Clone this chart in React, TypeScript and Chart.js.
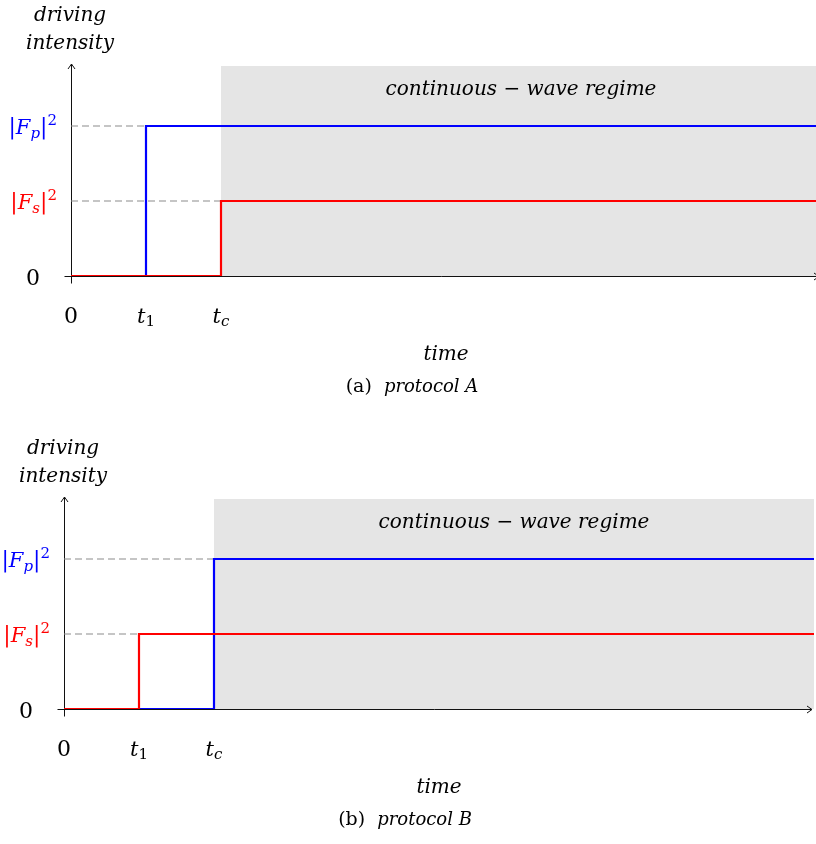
import React, { useEffect, useRef } from "react";
import { Chart, registerables } from "chart.js";
Chart.register(...registerables);

// ---- data ----
const timeTicks = [0, 1, 2]; // 0, t1, tc
const timeTickMain = ["0", "t", "t"];
const timeTickSub = ["", "1", "c"];
const levelValues = [0, 1, 2]; // 0, |Fs|^2, |Fp|^2
const X_END = 10;
const Y_TOP = 2.8;
const regimeStart = 2;
const regimeLabel = "continuous \u2212 wave regime";
const yTitle = ["driving", "intensity"];
const xTitle = "time";

const protocolA_pumpX = [0, 1, 10];
const protocolA_pumpY = [0, 2, 2];
const protocolA_signalX = [0, 2, 10];
const protocolA_signalY = [0, 1, 1];

const protocolB_pumpX = [0, 2, 10];
const protocolB_pumpY = [0, 2, 2];
const protocolB_signalX = [0, 1, 10];
const protocolB_signalY = [0, 1, 1];

const PUMP_COLOR = "#0000ff";
const SIGNAL_COLOR = "#ff0000";
const SERIF = '"DejaVu Serif"';

type Part = { t: string; font: string; dy?: number };

function drawRich(ctx: CanvasRenderingContext2D, parts: Part[], x: number, y: number, align: "left" | "center" | "right", color: string) {
  ctx.save();
  ctx.fillStyle = color;
  ctx.textBaseline = "alphabetic";
  ctx.textAlign = "left";
  let total = 0;
  const widths = parts.map((p) => {
    ctx.font = p.font;
    const w = ctx.measureText(p.t).width;
    total += w;
    return w;
  });
  let cx = align === "left" ? x : align === "center" ? x - total / 2 : x - total;
  parts.forEach((p, i) => {
    ctx.font = p.font;
    ctx.fillText(p.t, cx, y + (p.dy || 0));
    cx += widths[i];
  });
  ctx.restore();
}

const ital = `italic 20px ${SERIF}`;
const mathI = `italic 21px ${SERIF}`;
const mathR = `22px ${SERIF}`;
const subI = `italic 15px ${SERIF}`;
const subR = `15px ${SERIF}`;

function pts(xs: number[], ys: number[]) {
  return xs.map((x, i) => ({ x, y: ys[i] }));
}

function Panel(props: { left: number; top: number; pumpX: number[]; pumpY: number[]; signalX: number[]; signalY: number[]; tag: string; name: string }) {
  const ref = useRef<HTMLCanvasElement>(null);
  useEffect(() => {
    const canvas = ref.current!;
    const { pumpX, pumpY, signalX, signalY, tag, name } = props;
    const REGIME_INDEX = 4;

    const decor = {
      id: "decor",
      afterDatasetDraw(chart: any, args: any) {
        if (args.index !== REGIME_INDEX) return;
        const ctx = chart.ctx as CanvasRenderingContext2D;
        const xs = chart.scales.x;
        const ys = chart.scales.y;
        const x0 = Math.round(xs.getPixelForValue(0)) + 0.5;
        const y0 = Math.round(ys.getPixelForValue(0)) + 0.5;
        const xE = xs.getPixelForValue(X_END) - 2;
        const yT = ys.getPixelForValue(Y_TOP) - 2;
        ctx.save();
        ctx.strokeStyle = "#111";
        ctx.lineWidth = 1;
        ctx.beginPath();
        ctx.moveTo(x0 - 7, y0);
        ctx.lineTo(xE, y0);
        ctx.moveTo(x0, y0 + 7);
        ctx.lineTo(x0, yT);
        ctx.stroke();
        ctx.beginPath();
        ctx.moveTo(x0 - 3.5, yT + 5);
        ctx.lineTo(x0, yT);
        ctx.lineTo(x0 + 3.5, yT + 5);
        ctx.moveTo(xE - 5, y0 - 3.5);
        ctx.lineTo(xE, y0);
        ctx.lineTo(xE - 5, y0 + 3.5);
        ctx.stroke();
        ctx.restore();
      },
      afterDraw(chart: any) {
        const ctx = chart.ctx as CanvasRenderingContext2D;
        const xs = chart.scales.x;
        const ys = chart.scales.y;
        const x0 = xs.getPixelForValue(0);
        const y0 = ys.getPixelForValue(0);
        const yT = ys.getPixelForValue(Y_TOP);
        // x tick labels
        timeTicks.forEach((v, i) => {
          const parts: Part[] = i === 0 ? [{ t: timeTickMain[i], font: mathR }] : [{ t: timeTickMain[i], font: mathI }, { t: timeTickSub[i], font: i === 1 ? subR : subI, dy: 3 }];
          drawRich(ctx, parts, xs.getPixelForValue(v), y0 + 47, "center", "#000");
        });
        // y tick labels
        levelValues.forEach((v) => {
          const py = ys.getPixelForValue(v);
          if (v === 0) {
            drawRich(ctx, [{ t: "0", font: mathR }], x0 - 31, py + 9, "right", "#000");
          } else {
            const isPump = v === pumpY[pumpY.length - 1];
            const parts: Part[] = [
              { t: "|", font: mathR },
              { t: "F", font: mathI },
              { t: isPump ? "p" : "s", font: subI, dy: 4 },
              { t: "|", font: mathR },
              { t: "2", font: subR, dy: -9 },
            ];
            drawRich(ctx, parts, x0 - 14, py + 8, "right", isPump ? PUMP_COLOR : SIGNAL_COLOR);
          }
        });
        // axis titles
        drawRich(ctx, [{ t: yTitle[0], font: ital }], x0 - 1, yT - 45, "center", "#000");
        drawRich(ctx, [{ t: yTitle[1], font: ital }], x0 - 1, yT - 17, "center", "#000");
        drawRich(ctx, [{ t: xTitle, font: ital }], xs.getPixelForValue(X_END / 2), y0 + 84, "center", "#000");
        // regime label
        drawRich(ctx, [{ t: regimeLabel, font: ital }], xs.getPixelForValue((regimeStart + X_END) / 2), yT + 29, "center", "#000");
        // caption
        drawRich(
          ctx,
          [
            { t: `(${tag})`, font: `19px ${SERIF}` },
            { t: "  ", font: `19px ${SERIF}` },
            { t: name, font: `italic 18px ${SERIF}` },
          ],
          412,
          y0 + 116,
          "center",
          "#000"
        );
      },
    };

    const chart = new Chart(canvas, {
      type: "line",
      data: {
        datasets: [
          { data: pts(signalX, signalY), borderColor: SIGNAL_COLOR, borderWidth: 2.2, stepped: "before", pointRadius: 0, order: 0 },
          { data: pts(pumpX, pumpY), borderColor: PUMP_COLOR, borderWidth: 2.2, stepped: "before", pointRadius: 0, order: 1 },
          { data: pts([0, pumpX[1]], [pumpY[1], pumpY[1]]), borderColor: "#8c8c8c", borderWidth: 1.1, borderDash: [7, 4], pointRadius: 0, order: 2 },
          { data: pts([0, signalX[1]], [signalY[1], signalY[1]]), borderColor: "#8c8c8c", borderWidth: 1.1, borderDash: [7, 4], pointRadius: 0, order: 3 },
          { data: pts([regimeStart, X_END], [Y_TOP, Y_TOP]), borderWidth: 0, borderColor: "rgba(0,0,0,0)", backgroundColor: "#e5e5e5", fill: "start", pointRadius: 0, order: 9 },
        ] as any,
      },
      options: {
        animation: false,
        responsive: false,
        devicePixelRatio: 1,
        layout: { padding: { left: 71, right: 3, top: 66, bottom: 146 } },
        scales: {
          x: { type: "linear", min: 0, max: X_END, display: false },
          y: { type: "linear", min: 0, max: Y_TOP, display: false },
        },
        plugins: { legend: { display: false }, tooltip: { enabled: false } },
        events: [],
      } as any,
      plugins: [decor],
    });
    return () => chart.destroy();
  }, []);
  return (
    <canvas
      ref={ref}
      width={824}
      height={422}
      style={{ position: "absolute", left: props.left, top: props.top, width: 824, height: 422, display: "block" }}
    />
  );
}

export default function App() {
  return (
    <div style={{ position: "absolute", left: 0, top: 0, width: 816, height: 844, overflow: "hidden", background: "#fff" }}>
      <Panel left={0} top={0} pumpX={protocolA_pumpX} pumpY={protocolA_pumpY} signalX={protocolA_signalX} signalY={protocolA_signalY} tag="a" name="protocol A" />
      <Panel left={-7} top={433} pumpX={protocolB_pumpX} pumpY={protocolB_pumpY} signalX={protocolB_signalX} signalY={protocolB_signalY} tag="b" name="protocol B" />
    </div>
  );
}
